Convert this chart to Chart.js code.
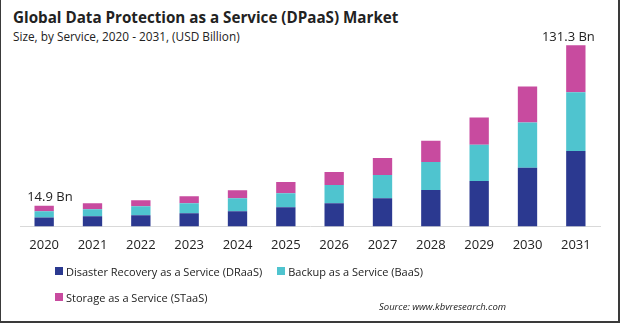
<!DOCTYPE html>
<html>
<head>
<meta charset="utf-8">
<script src="https://cdn.jsdelivr.net/npm/chart.js@4.4.1/dist/chart.umd.min.js"></script>
<style>
    html, body { margin: 0; padding: 0; background: #fff; }
    #frame {
        position: relative; width: 620px; height: 323px; box-sizing: border-box;
        border-left: 1px solid #3a3a3a; border-right: 2px solid #3a3a3a; border-bottom: 2px solid #3a3a3a;
        font-family: "Open Sans", sans-serif; color: #222; overflow: hidden;
    }
    #title { position: absolute; left: 12px; top: 7px; font-size: 15.2px; font-weight: bold; white-space: nowrap; }
    #subtitle { position: absolute; left: 12px; top: 28px; font-size: 11.8px; white-space: nowrap; }
    #chartBox { position: absolute; left: -1px; top: 0; width: 620px; height: 264px; }
    #legend { position: absolute; left: 54px; top: 262px; width: 400px; font-size: 11px; }
    .item { display: inline-flex; align-items: center; margin-right: 15px; height: 18px; margin-bottom: 8px; white-space: nowrap; }
    .sw { width: 8px; height: 8px; margin-right: 3px; }
    #source { position: absolute; left: 378px; top: 300px; font-size: 9.5px; font-style: italic; white-space: nowrap; }
</style>
</head>
<body>
<div id="frame">
    <div id="title">Global Data Protection as a Service (DPaaS) Market</div>
    <div id="subtitle">Size, by Service, 2020 - 2031, (USD Billion)</div>
    <div id="chartBox"><canvas id="chart"></canvas></div>
    <div id="legend"></div>
    <div id="source">Source: www.kbvresearch.com</div>
</div>
<script>
const years = ['2020', '2021', '2022', '2023', '2024', '2025', '2026', '2027', '2028', '2029', '2030', '2031'];
const draas = [6.4, 7.3, 8.0, 9.5, 10.9, 13.9, 16.8, 20.4, 26.3, 32.8, 42.5, 54.7];
const baas = [4.6, 5.1, 6.6, 7.3, 9.5, 10.2, 13.1, 16.8, 20.4, 26.3, 32.8, 42.5];
const staas = [3.9, 4.4, 4.4, 5.1, 5.8, 8.0, 9.5, 12.4, 15.3, 19.7, 26.0, 34.1];
const endLabels = ['14.9 Bn', '131.3 Bn'];

const seriesNames = ['Disaster Recovery as a Service (DRaaS)', 'Backup as a Service (BaaS)', 'Storage as a Service (STaaS)'];
const colors = ['#2b3990', '#4fc4cf', '#c84b9f'];

// labels above first and last bar
const endLabelPlugin = {
    id: 'endLabels',
    afterDatasetsDraw(chart) {
        const ctx = chart.ctx;
        const top = chart.getDatasetMeta(2).data;
        const first = top[0], last = top[top.length - 1];
        ctx.save();
        ctx.fillStyle = '#222';
        ctx.font = '13px "Open Sans", sans-serif';
        ctx.textBaseline = 'bottom';
        ctx.textAlign = 'left';
        ctx.fillText(endLabels[0], first.x - 17, first.y - 2);
        ctx.textAlign = 'right';
        ctx.fillText(endLabels[1], last.x + 19, last.y - 1);
        ctx.restore();
    }
};

const ctx = document.getElementById('chart').getContext('2d');
const chart = new Chart(ctx, {
    type: 'bar',
    data: {
        labels: years,
        datasets: [draas, baas, staas].map((d, i) => ({
            label: seriesNames[i],
            data: d,
            backgroundColor: colors[i],
            borderWidth: 0,
            barPercentage: 0.4,
            categoryPercentage: 1
        }))
    },
    options: {
        responsive: true,
        maintainAspectRatio: false,
        animation: false,
        layout: { padding: { left: 20, right: 20, top: 0, bottom: 0 } },
        plugins: {
            legend: { display: false },
            title: { display: false },
            tooltip: { enabled: false }
        },
        scales: {
            x: {
                stacked: true,
                grid: { display: false, drawTicks: false },
                border: { display: true, color: '#d9d9d9', width: 1 },
                ticks: { color: '#222', padding: 11, font: { size: 13, family: '"Open Sans", sans-serif' } }
            },
            y: {
                stacked: true,
                display: false,
                min: 0,
                max: 164
            }
        }
    },
    plugins: [endLabelPlugin]
});

const legend = document.getElementById('legend');
chart.data.datasets.forEach(ds => {
    const item = document.createElement('span');
    item.className = 'item';
    const sw = document.createElement('span');
    sw.className = 'sw';
    sw.style.background = ds.backgroundColor;
    item.appendChild(sw);
    item.appendChild(document.createTextNode(ds.label));
    legend.appendChild(item);
});
</script>
</body>
</html>
